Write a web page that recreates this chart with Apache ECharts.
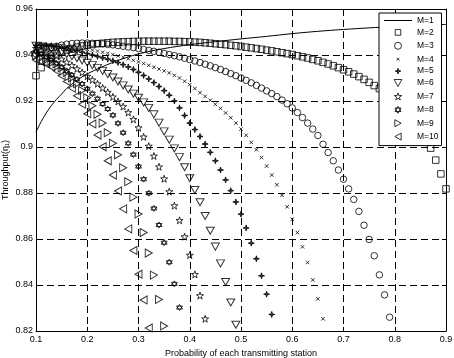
<html>
<head>
<meta charset="UTF-8">
<script src="https://cdn.jsdelivr.net/npm/echarts@6/dist/echarts.min.js"></script>
<style>
	body { margin: 0; background: #fff; }
</style>
</head>
<body>
	<div id="chart" style="width: 454px; height: 358px"></div>
</body>
<script>
	// transmit probability grid, 0.01 step
	var pSteps = [0.10, 0.11, 0.12, 0.13, 0.14, 0.15, 0.16, 0.17, 0.18, 0.19,
		0.20, 0.21, 0.22, 0.23, 0.24, 0.25, 0.26, 0.27, 0.28, 0.29,
		0.30, 0.31, 0.32, 0.33, 0.34, 0.35, 0.36, 0.37, 0.38, 0.39,
		0.40, 0.41, 0.42, 0.43, 0.44, 0.45, 0.46, 0.47, 0.48, 0.49,
		0.50, 0.51, 0.52, 0.53, 0.54, 0.55, 0.56, 0.57, 0.58, 0.59,
		0.60, 0.61, 0.62, 0.63, 0.64, 0.65, 0.66, 0.67, 0.68, 0.69,
		0.70, 0.71, 0.72, 0.73, 0.74, 0.75, 0.76, 0.77, 0.78, 0.79,
		0.80, 0.81, 0.82, 0.83, 0.84, 0.85, 0.86, 0.87, 0.88, 0.89, 0.90];

	// M=1 (solid line)
	var m1P = [0.10, 0.11, 0.12, 0.13, 0.14, 0.15, 0.16, 0.18, 0.20, 0.25, 0.30, 0.35,
		0.40, 0.45, 0.50, 0.55, 0.60, 0.65, 0.70, 0.75, 0.80, 0.85, 0.90];
	var m1Y = [0.9065, 0.9110, 0.9148, 0.9180, 0.9207, 0.9230, 0.9255, 0.9290, 0.9318, 0.9368, 0.9405, 0.9428,
		0.9445, 0.9458, 0.9470, 0.9481, 0.9493, 0.9503, 0.9511, 0.9518, 0.9524, 0.9529, 0.9533];

	// M=2..M=10, values from p=0.10 on, one per step
	var m2 = [0.9310, 0.9345, 0.9370, 0.9390, 0.9405, 0.9415, 0.9422, 0.9428, 0.9434, 0.9439,
		0.9443, 0.9446, 0.9449, 0.9451, 0.9453, 0.9455, 0.9456, 0.9457, 0.9458, 0.9459,
		0.9459, 0.9460, 0.9460, 0.9460, 0.9460, 0.9460, 0.9460, 0.9459, 0.9459, 0.9458,
		0.9457, 0.9456, 0.9455, 0.9453, 0.9451, 0.9449, 0.9447, 0.9445, 0.9442, 0.9440,
		0.9437, 0.9434, 0.9431, 0.9428, 0.9425, 0.9421, 0.9418, 0.9414, 0.9410, 0.9406,
		0.9402, 0.9397, 0.9392, 0.9387, 0.9381, 0.9375, 0.9368, 0.9361, 0.9353, 0.9345,
		0.9336, 0.9327, 0.9317, 0.9306, 0.9294, 0.9281, 0.9267, 0.9254, 0.9241, 0.9226,
		0.9209, 0.9190, 0.9168, 0.9143, 0.9114, 0.9080, 0.9040, 0.8995, 0.8943, 0.8883,
		0.8818];
	var m3 = [0.9405, 0.9415, 0.9425, 0.9432, 0.9438, 0.9443, 0.9447, 0.9450, 0.9451, 0.9452,
		0.9452, 0.9451, 0.9450, 0.9448, 0.9446, 0.9444, 0.9441, 0.9438, 0.9435, 0.9432,
		0.9428, 0.9424, 0.9420, 0.9416, 0.9412, 0.9407, 0.9402, 0.9397, 0.9392, 0.9386,
		0.9380, 0.9374, 0.9367, 0.9360, 0.9353, 0.9345, 0.9337, 0.9328, 0.9319, 0.9310,
		0.9300, 0.9290, 0.9279, 0.9268, 0.9256, 0.9244, 0.9232, 0.9219, 0.9204, 0.9188,
		0.9170, 0.9150, 0.9128, 0.9104, 0.9078, 0.9050, 0.9012, 0.8976, 0.8940, 0.8900,
		0.8860, 0.8818, 0.8772, 0.8720, 0.8660, 0.8598, 0.8527, 0.8444, 0.8357, 0.8260];
	var m4 = [0.9435, 0.9440, 0.9443, 0.9444, 0.9443, 0.9441, 0.9438, 0.9435, 0.9431, 0.9428,
		0.9425, 0.9421, 0.9417, 0.9412, 0.9407, 0.9402, 0.9396, 0.9390, 0.9384, 0.9377,
		0.9370, 0.9363, 0.9355, 0.9347, 0.9339, 0.9331, 0.9322, 0.9312, 0.9300, 0.9286,
		0.9271, 0.9254, 0.9236, 0.9220, 0.9203, 0.9186, 0.9168, 0.9148, 0.9127, 0.9104,
		0.9078, 0.9051, 0.9020, 0.8988, 0.8954, 0.8917, 0.8878, 0.8836, 0.8790, 0.8740,
		0.8686, 0.8628, 0.8566, 0.8498, 0.8422, 0.8340, 0.8253];
	var m5 = [0.9442, 0.9443, 0.9442, 0.9440, 0.9437, 0.9433, 0.9428, 0.9423, 0.9418, 0.9412,
		0.9406, 0.9400, 0.9394, 0.9388, 0.9382, 0.9375, 0.9367, 0.9358, 0.9348, 0.9337,
		0.9325, 0.9311, 0.9296, 0.9280, 0.9263, 0.9245, 0.9225, 0.9200, 0.9170, 0.9137,
		0.9104, 0.9076, 0.9046, 0.9013, 0.8977, 0.8940, 0.8900, 0.8857, 0.8810, 0.8761,
		0.8708, 0.8648, 0.8582, 0.8514, 0.8440, 0.8360, 0.8272];
	var m6 = [0.9440, 0.9437, 0.9433, 0.9428, 0.9421, 0.9413, 0.9404, 0.9395, 0.9386, 0.9376,
		0.9366, 0.9356, 0.9344, 0.9331, 0.9317, 0.9302, 0.9285, 0.9268, 0.9250, 0.9232,
		0.9214, 0.9194, 0.9170, 0.9142, 0.9106, 0.9068, 0.9032, 0.8994, 0.8956, 0.8912,
		0.8864, 0.8813, 0.8760, 0.8700, 0.8636, 0.8567, 0.8494, 0.8413, 0.8324, 0.8227];
	var m7 = [0.9429, 0.9422, 0.9414, 0.9405, 0.9395, 0.9382, 0.9369, 0.9355, 0.9340, 0.9324,
		0.9308, 0.9292, 0.9275, 0.9257, 0.9238, 0.9218, 0.9198, 0.9176, 0.9150, 0.9120,
		0.9084, 0.9044, 0.9004, 0.8961, 0.8914, 0.8862, 0.8806, 0.8745, 0.8681, 0.8610,
		0.8530, 0.8446, 0.8354, 0.8253];
	var m8 = [0.9415, 0.9404, 0.9392, 0.9379, 0.9364, 0.9348, 0.9331, 0.9313, 0.9294, 0.9274,
		0.9253, 0.9232, 0.9210, 0.9187, 0.9165, 0.9138, 0.9103, 0.9062, 0.9016, 0.8967,
		0.8915, 0.8860, 0.8799, 0.8733, 0.8661, 0.8584, 0.8499, 0.8405, 0.8302];
	var m9 = [0.9399, 0.9394, 0.9386, 0.9375, 0.9361, 0.9344, 0.9324, 0.9301, 0.9275, 0.9246,
		0.9214, 0.9179, 0.9142, 0.9104, 0.9062, 0.9016, 0.8966, 0.8910, 0.8849, 0.8782,
		0.8709, 0.8628, 0.8539, 0.8443, 0.8337, 0.8222];
	var m10 = [0.9378, 0.9371, 0.9361, 0.9348, 0.9331, 0.9310, 0.9285, 0.9256, 0.9223, 0.9186,
		0.9145, 0.9100, 0.9052, 0.9001, 0.8940, 0.8878, 0.8809, 0.8731, 0.8644, 0.8550,
		0.8447, 0.8335, 0.8213];

	var xTicks = ['0.1', '0.2', '0.3', '0.4', '0.5', '0.6', '0.7', '0.8', '0.9'];
	var yTicks = ['0.82', '0.84', '0.86', '0.88', '0.9', '0.92', '0.94', '0.96'];

	var FONT = '"Liberation Sans", Arial, sans-serif';

	// marker shapes
	var SYM_SQUARE = 'path://M0,0L10,0L10,10L0,10Z';
	var SYM_CROSS = 'path://M0,0L10,10M10,0L0,10';
	var SYM_STAR4 = 'path://M5,0L6.1,3.9L10,5L6.1,6.1L5,10L3.9,6.1L0,5L3.9,3.9Z';
	var SYM_TRI_DOWN = 'path://M0,0L10,0L5,9Z';
	var SYM_STAR5 = 'path://M5,0L6.2,3.6L10,3.6L6.9,5.9L8.1,9.5L5,7.3L1.9,9.5L3.1,5.9L0,3.6L3.8,3.6Z';
	var SYM_HEX = 'path://M5,0L9.3,7.5L0.7,7.5Z M5,10L0.7,2.5L9.3,2.5Z';
	var SYM_TRI_RIGHT = 'path://M0,0L9,5L0,10Z';
	var SYM_TRI_LEFT = 'path://M9,0L0,5L9,10Z';
	// legend-only icons (padded so they come out smaller in the 7px legend box)
	var ICON_LINE = 'path://M0,0L28,0L28,1L0,1Z';
	var ICON_CROSS = 'path://M3,3L7,7M7,3L3,7M0,0L0,0.01M10,10L10,9.99';
	var ICON_SQUARE = 'path://M1,1L9,1L9,9L1,9ZM0,0L0,0.01M10,10L10,9.99';
	var ICON_STAR4 = 'path://M5,1L5.9,4.1L9,5L5.9,5.9L5,9L4.1,5.9L1,5L4.1,4.1ZM0,0L0,0.01M10,10L10,9.99';

	function pairs(vals) {
		return vals.map(function(v, i) { return [pSteps[i], v]; });
	}

	function markerSeries(name, vals, symbol, size, filled) {
		return {
			name : name,
			type : 'scatter',
			xAxisIndex : 0,
			yAxisIndex : 0,
			symbol : symbol,
			symbolSize : size,
			symbolKeepAspect : false,
			itemStyle : {
				color : filled ? '#000' : 'none',
				borderColor : '#000',
				borderWidth : 1
			},
			emphasis : { disabled : true },
			data : pairs(vals)
		};
	}

	var chart = echarts.init(document.getElementById('chart'));

	var axisCommon = {
		type : 'value',
		axisLine : { show : true, onZero : false, lineStyle : { color : '#000', width : 1 } },
		axisTick : { show : true, inside : true, length : 4, lineStyle : { color : '#000' } }
	};

	var option = {
		animation : false,
		textStyle : { fontFamily : FONT },
		grid : { left : 36, right : 8, top : 9, bottom : 27, outerBoundsMode : 'none', containLabel : false },
		legend : {
			orient : 'vertical',
			left : 379,
			top : 13,
			padding : [3, 3, 3, 5],
			itemWidth : 28,
			itemHeight : 7,
			itemGap : 1.4,
			backgroundColor : '#fff',
			borderColor : '#000',
			borderWidth : 1,
			borderRadius : 0,
			itemStyle : { borderWidth : 1 },
			textStyle : { fontSize : 8.5, lineHeight : 9, color : '#000', fontFamily : FONT },
			data : [
				{ name : 'M=1', icon : ICON_LINE, itemStyle : { color : '#000', borderWidth : 0 } },
				{ name : 'M=2', icon : ICON_SQUARE },
				'M=3',
				{ name : 'M=4', icon : ICON_CROSS },
				{ name : 'M=5', icon : ICON_STAR4 },
				'M=6', 'M=7', 'M=8', 'M=9', 'M=10'
			]
		},
		xAxis : [
			Object.assign({}, axisCommon, {
				min : 0.1, max : 0.9, interval : 0.1,
				name : 'Probability of each transmitting station',
				nameLocation : 'middle',
				nameGap : 16,
				nameTextStyle : { fontSize : 9, color : '#000' },
				axisLabel : {
					fontSize : 9, color : '#000', margin : 4,
					formatter : function(v) {
						var i = Math.round((v - 0.1) / 0.1);
						return xTicks[i] || '';
					}
				},
				splitLine : { show : true, lineStyle : { color : '#000', type : [7, 4], width : 1 } }
			}),
			Object.assign({}, axisCommon, {
				position : 'top', min : 0.1, max : 0.9, interval : 0.1,
				axisLabel : { show : false },
				splitLine : { show : false }
			})
		],
		yAxis : [
			Object.assign({}, axisCommon, {
				min : 0.82, max : 0.96, interval : 0.02,
				name : 'Throughput(η₁)',
				nameLocation : 'middle',
				nameRotate : 90,
				nameGap : 26,
				nameMoveOverlap : false,
				nameTextStyle : { fontSize : 9, color : '#000' },
				axisLabel : {
					fontSize : 9, color : '#000', margin : 3,
					formatter : function(v) {
						var i = Math.round((v - 0.82) / 0.02);
						return yTicks[i] || '';
					}
				},
				splitLine : { show : true, lineStyle : { color : '#000', type : [7, 4], width : 1 } }
			}),
			Object.assign({}, axisCommon, {
				position : 'right', min : 0.82, max : 0.96, interval : 0.02,
				axisLabel : { show : false },
				splitLine : { show : false }
			})
		],
		series : [
			{
				name : 'M=1',
				type : 'line',
				xAxisIndex : 0,
				yAxisIndex : 0,
				symbol : 'none',
				smooth : 0.3,
				lineStyle : { color : '#000', width : 1 },
				itemStyle : { color : '#000' },
				emphasis : { disabled : true },
				data : m1P.map(function(p, i) { return [p, m1Y[i]]; })
			},
			markerSeries('M=2', m2, SYM_SQUARE, 6.5, false),
			markerSeries('M=3', m3, 'circle', 6.5, false),
			markerSeries('M=4', m4, SYM_CROSS, 3.5, false),
			markerSeries('M=5', m5, SYM_STAR4, 6, true),
			markerSeries('M=6', m6, SYM_TRI_DOWN, [8, 7], false),
			markerSeries('M=7', m7, SYM_STAR5, 7, false),
			markerSeries('M=8', m8, SYM_HEX, 6, false),
			markerSeries('M=9', m9, SYM_TRI_RIGHT, [7, 8], false),
			markerSeries('M=10', m10, SYM_TRI_LEFT, [7, 8], false)
		]
	};
	chart.setOption(option);
</script>
</html>
